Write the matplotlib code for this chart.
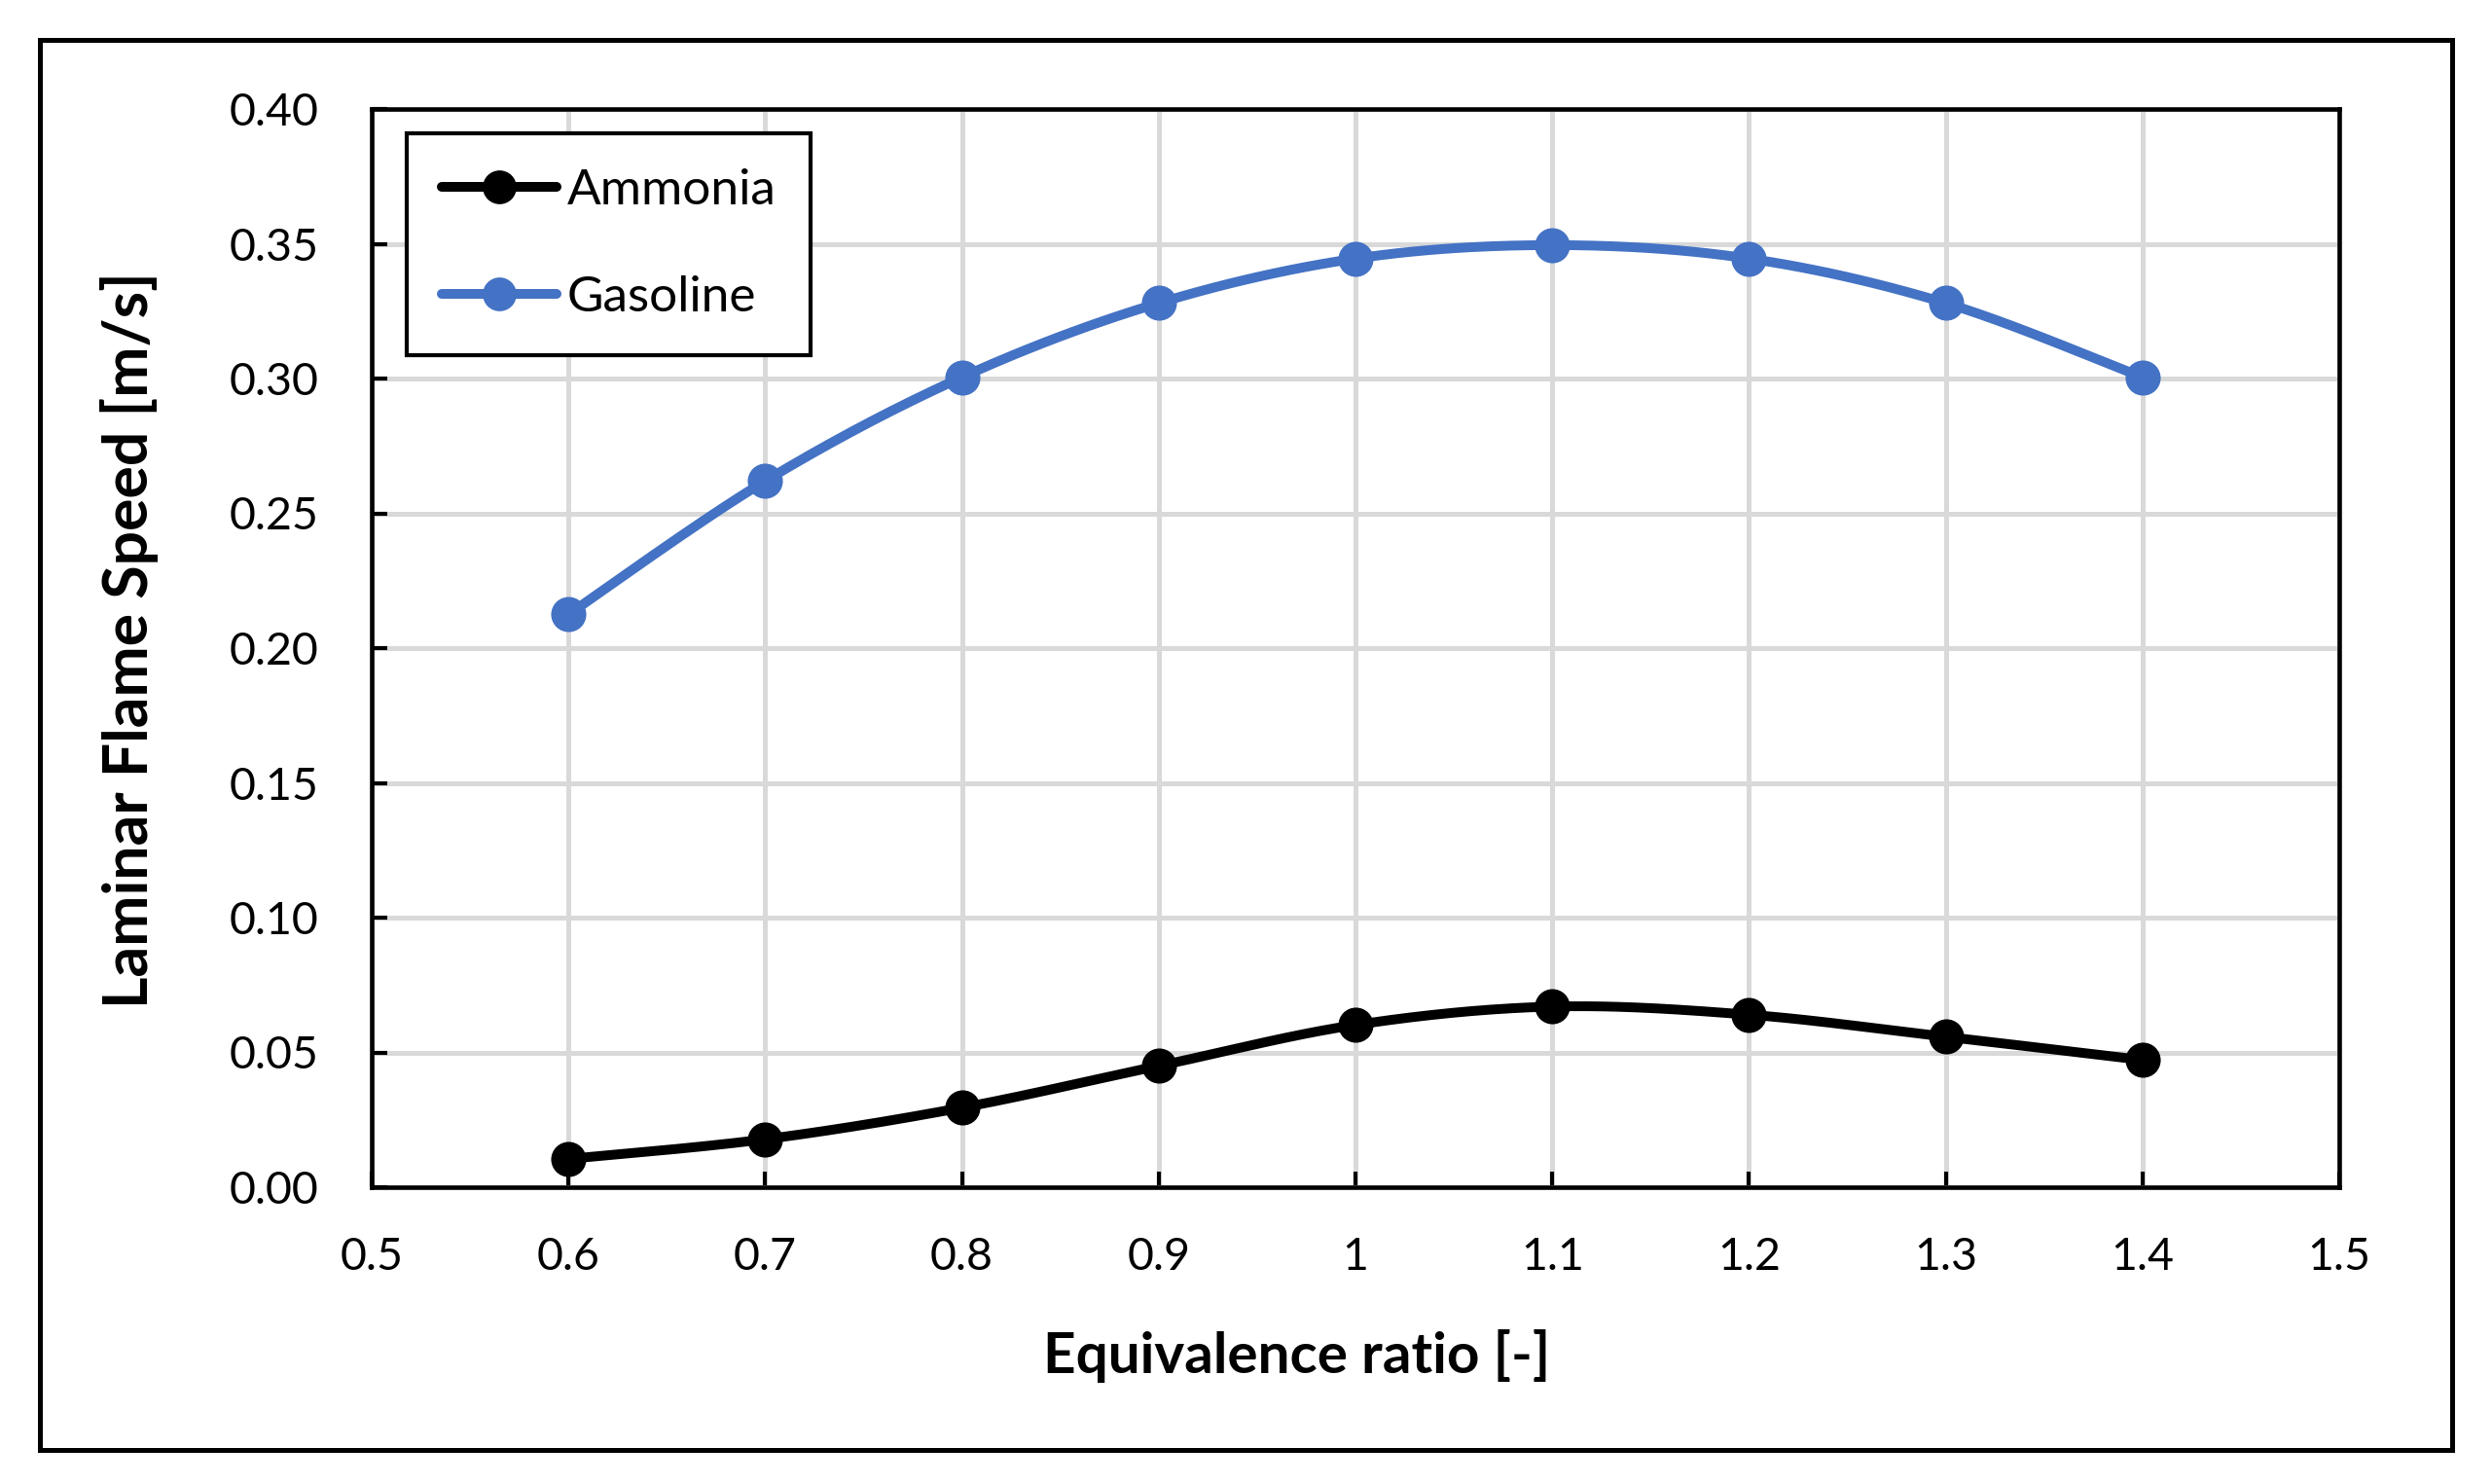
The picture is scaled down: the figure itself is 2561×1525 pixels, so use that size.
import numpy as np
import matplotlib
matplotlib.use("Agg")
import matplotlib.pyplot as plt
from matplotlib.lines import Line2D
from matplotlib.patches import Rectangle

# ---- data ----
phi = [0.6, 0.7, 0.8, 0.9, 1.0, 1.1, 1.2, 1.3, 1.4]
ammonia = [0.0105, 0.0178, 0.0295, 0.0450, 0.0602, 0.0670, 0.0640, 0.0558, 0.0472]
gasoline = [0.2125, 0.2620, 0.3005, 0.3280, 0.3445, 0.3495, 0.3445, 0.3280, 0.3005]
series_names = ["Ammonia", "Gasoline"]
series_colors = ["#000000", "#4472C4"]
x_ticks = [0.5, 0.6, 0.7, 0.8, 0.9, 1.0, 1.1, 1.2, 1.3, 1.4, 1.5]
x_ticklabels = ["0.5", "0.6", "0.7", "0.8", "0.9", "1", "1.1", "1.2", "1.3", "1.4", "1.5"]
y_ticks = [0.0, 0.05, 0.10, 0.15, 0.20, 0.25, 0.30, 0.35, 0.40]
y_ticklabels = ["0.00", "0.05", "0.10", "0.15", "0.20", "0.25", "0.30", "0.35", "0.40"]
x_label = "Equivalence ratio [-]"
y_label = "Laminar Flame Speed [m/s]"

plt.rcParams['font.family'] = ['Lato', 'DejaVu Sans']

W, H = 2561, 1525
fig = plt.figure(figsize=(W / 100, H / 100), dpi=100)
fig.patch.set_facecolor("white")

# outer border
fig.patches.append(Rectangle((41 / W, 1 - 1490 / H), (2520 - 41) / W, (1490 - 41) / H,
                             transform=fig.transFigure, fill=False, edgecolor="black",
                             linewidth=3.6, zorder=0))

ax = fig.add_axes([382 / W, 1 - 1220 / H, (2404 - 382) / W, (1220 - 112) / H])


def smooth(x, y, n=40):
    pts = np.column_stack([x, y]).astype(float)
    P = np.vstack([pts[0], pts, pts[-1]])
    out = []
    t = np.linspace(0, 1, n)[:, None]
    for i in range(1, len(P) - 2):
        p0, p1, p2, p3 = P[i - 1], P[i], P[i + 1], P[i + 2]
        c1 = p1 + (p2 - p0) / 6.0
        c2 = p2 - (p3 - p1) / 6.0
        seg = (1 - t) ** 3 * p1 + 3 * (1 - t) ** 2 * t * c1 + 3 * (1 - t) * t ** 2 * c2 + t ** 3 * p2
        out.append(seg if i == 1 else seg[1:])
    return np.vstack(out)


handles = []
for vals, name, col in zip([ammonia, gasoline], series_names, series_colors):
    c = smooth(phi, vals)
    ax.plot(c[:, 0], c[:, 1], color=col, lw=7.2, solid_capstyle='round', zorder=3)
    ax.plot(phi, vals, 'o', color=col, markersize=26, markeredgewidth=0, zorder=4)
    handles.append(Line2D([], [], color=col, lw=7.2, marker='o', markersize=25,
                          markeredgewidth=0, solid_capstyle='round'))

ax.set_xlim(0.5, 1.5)
ax.set_ylim(0.0, 0.40)
ax.set_xticks(x_ticks)
ax.set_xticklabels(x_ticklabels)
ax.set_yticks(y_ticks)
ax.set_yticklabels(y_ticklabels)
ax.grid(True, color="#D9D9D9", linewidth=3.6)
ax.set_axisbelow(True)
for s in ax.spines.values():
    s.set_linewidth(3.3)
    s.set_color("black")
    s.set_zorder(5)
ax.tick_params(axis='both', direction='in', length=11.5, width=3.0, labelsize=33.5,
               colors='black')
ax.tick_params(axis='x', pad=37)
ax.tick_params(axis='y', pad=39)

leg = ax.legend(handles, series_names, loc='upper left',
                bbox_to_anchor=((418 - 382) / (2404 - 382), (1220 - 137) / (1220 - 112)),
                borderaxespad=0, fontsize=37, frameon=True, fancybox=False,
                edgecolor='black', handlelength=2.3, handletextpad=0.2,
                labelspacing=1.25, borderpad=0.7)
leg.get_frame().set_linewidth(3.0)
leg.get_frame().set_alpha(1)
leg.set_zorder(6)

fig.text(1333 / W, 1 - 1411 / H, x_label, fontsize=42, fontweight='bold',
         ha='center', va='baseline')
fig.text(103 / W, 1 - 658 / H, y_label, fontsize=45, fontweight='bold',
         rotation=90, ha='left', va='center')

fig.savefig("out.png", dpi=100)
